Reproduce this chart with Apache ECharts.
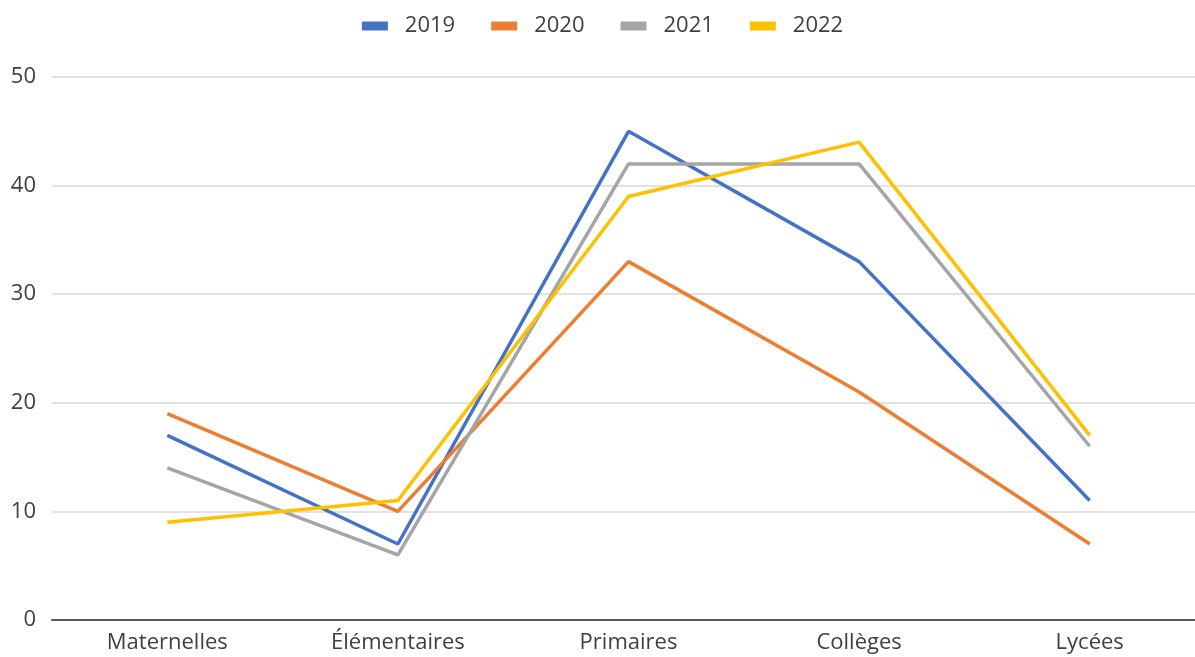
<!DOCTYPE html>
<html>
<head>
<meta charset="utf-8">
<script src="https://cdn.jsdelivr.net/npm/echarts@6/dist/echarts.min.js"></script>
<style>html,body{margin:0;padding:0;background:#fff;overflow:hidden}#c{width:1205px;height:657px}</style>
</head>
<body>
<div id="c"></div>
<script>
const categories = ['Maternelles', 'Élémentaires', 'Primaires', 'Collèges', 'Lycées'];
const seriesNames = ['2019', '2020', '2021', '2022'];
const values2019 = [17, 7, 45, 33, 11];
const values2020 = [19, 10, 33, 21, 7];
const values2021 = [14, 6, 42, 42, 16];
const values2022 = [9, 11, 39, 44, 17];
const colors = ['#4472C4', '#ED7D31', '#A5A5A5', '#FFC000'];
const allValues = [values2019, values2020, values2021, values2022];

const font = 'Open Sans';
const chart = echarts.init(document.getElementById('c'));
chart.setOption({
  animation: false,
  color: colors,
  legend: {
    top: 10,
    left: 'center',
    icon: 'rect',
    itemWidth: 26,
    itemHeight: 9,
    itemGap: 36,
    textStyle: { fontFamily: font, fontSize: 22, color: '#404040', padding: [0, 0, 0, 12] },
    data: seriesNames
  },
  grid: { left: 52, right: 0, top: 77, bottom: 37, containLabel: false },
  xAxis: {
    type: 'category',
    data: categories,
    boundaryGap: true,
    axisLine: { lineStyle: { color: '#595959', width: 2 } },
    axisTick: { show: false },
    axisLabel: { fontFamily: font, fontSize: 22, color: '#404040', margin: 12 }
  },
  yAxis: {
    type: 'value',
    min: 0, max: 50, interval: 10,
    axisLine: { show: false },
    axisTick: { show: false },
    axisLabel: { fontFamily: font, fontSize: 22, color: '#404040', margin: 16 },
    splitLine: { lineStyle: { color: '#D9D9D9', width: 1.5 } }
  },
  series: seriesNames.map((n, i) => ({
    name: n,
    type: 'line',
    data: allValues[i],
    symbol: 'none',
    lineStyle: { width: 3.5, color: colors[i] },
    itemStyle: { color: colors[i] }
  }))
});
</script>
</body>
</html>
